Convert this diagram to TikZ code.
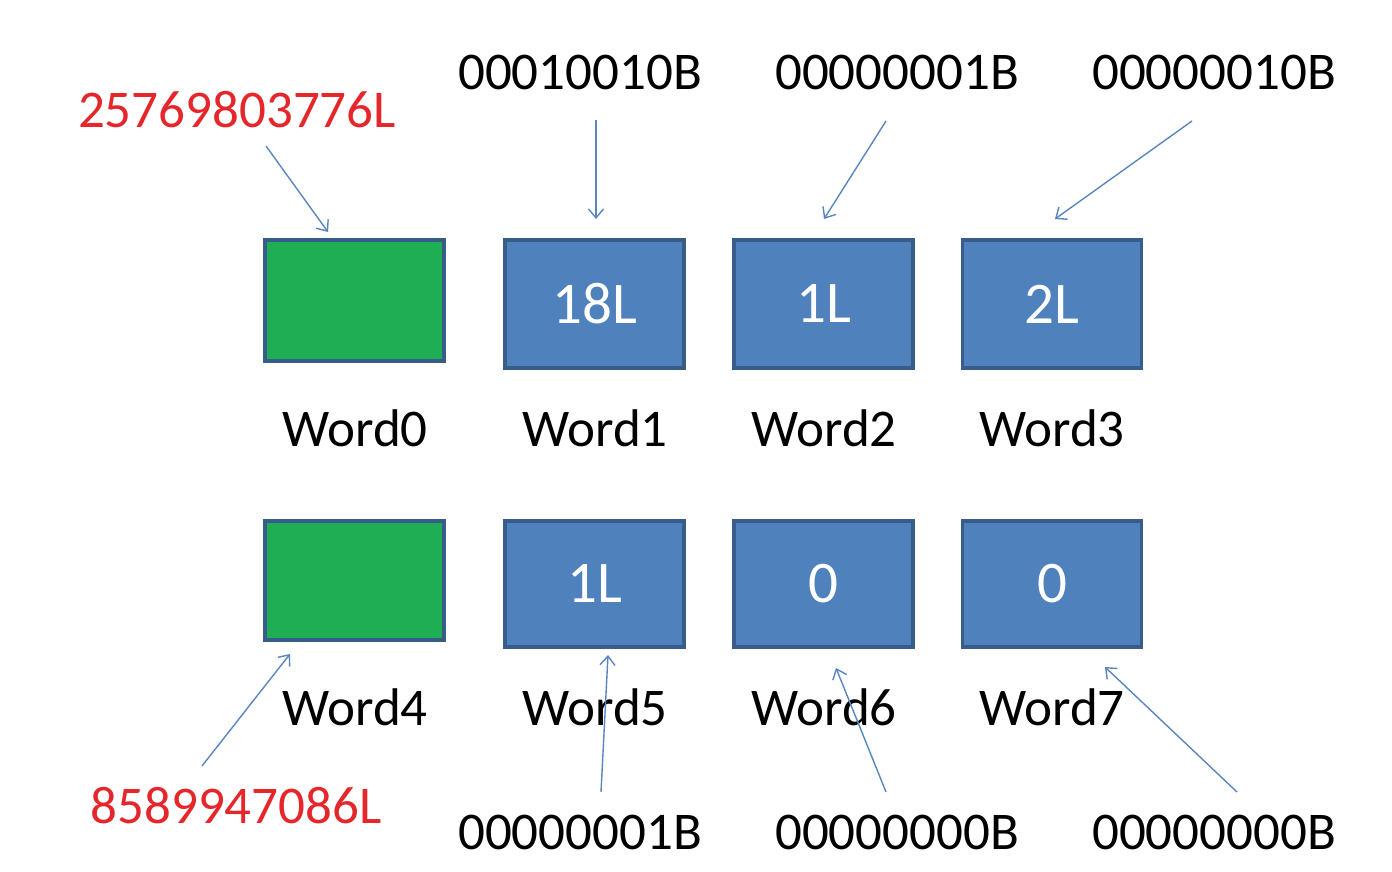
\documentclass[tikz,border=0pt]{standalone}
\usepackage{fontspec}
\setmainfont{Carlito}
\usetikzlibrary{arrows.meta}
\definecolor{wblue}{HTML}{4F81BD}
\definecolor{wedge}{HTML}{385D8A}
\definecolor{wgreen}{HTML}{1FAE54}
\definecolor{arrowblue}{HTML}{5A86C0}
\definecolor{hexred}{HTML}{E5262B}
\begin{document}
\begin{tikzpicture}[x=1pt,y=-1pt,
  every node/.style={font=\fontsize{53}{60}\selectfont, inner sep=0pt},
  wordbox/.style={draw=wedge, line width=3.5pt, fill=wblue, minimum width=179pt,
    text=white, font=\fontsize{59}{66}\selectfont},
  tagbox/.style={draw=wedge, line width=3.5pt, fill=wgreen, minimum width=179pt},
  caption/.style={text=black},
  bits/.style={text=black},
  value/.style={text=hexred},
  pointer/.style={draw=arrowblue, line width=1.4pt, -{Straight Barb[length=9pt,width=15pt,line width=1.4pt]}}]
\useasboundingbox[fill=white] (0,0) rectangle (1392,872);

% first long word: tag cell and three value cells
\node[tagbox, minimum height=121pt] (w0) at (354.5,300.5) {};
\node[wordbox, minimum height=128pt] (w1) at (594.5,304) {18L};
\node[wordbox, minimum height=128pt] (w2) at (823.5,304) {1L};
\node[wordbox, minimum height=128pt] (w3) at (1052,304) {2L};

% second long word
\node[tagbox, minimum height=119pt] (w4) at (354.5,580.5) {};
\node[wordbox, minimum height=126pt] (w5) at (594.5,584) {1L};
\node[wordbox, minimum height=126pt] (w6) at (823.5,584) {0};
\node[wordbox, minimum height=126pt] (w7) at (1052,584) {0};

% cell captions
\node[caption] (c0) at (355,428) {Word0};
\node[caption] (c1) at (595,428) {Word1};
\node[caption] (c2) at (824,428) {Word2};
\node[caption] (c3) at (1052,428) {Word3};
\node[caption] (c4) at (355,707) {Word4};
\node[caption] (c5) at (595,707) {Word5};
\node[caption] (c6) at (824,707) {Word6};
\node[caption] (c7) at (1052,707) {Word7};

% bit patterns and long values
\node[value] (v0) at (237,110) {25769803776L};
\node[bits] (b1) at (580,72) {00010010B};
\node[bits] (b2) at (897,72) {00000001B};
\node[bits] (b3) at (1214,72) {00000010B};
\node[value] (v4) at (236,806) {8589947086L};
\node[bits] (b5) at (580,832) {00000001B};
\node[bits] (b6) at (897,832) {00000000B};
\node[bits] (b7) at (1214,832) {00000000B};

% pointer ends
\coordinate (s0) at (266,146);  \coordinate (e0) at (328,232);
\coordinate (s1) at (596,120);  \coordinate (e1) at (596,219);
\coordinate (s2) at (886,121);  \coordinate (e2) at (824,219);
\coordinate (s3) at (1192,121); \coordinate (e3) at (1055,219);
\coordinate (s4) at (202,766);  \coordinate (e4) at (290,654);
\coordinate (s5) at (601,792);  \coordinate (e5) at (608,655);
\coordinate (s6) at (886,792);  \coordinate (e6) at (836,668);
\coordinate (s7) at (1237,792); \coordinate (e7) at (1105,667);

\foreach \i in {0,...,7} {\draw[pointer] (s\i) -- (e\i);}
\end{tikzpicture}
\end{document}
